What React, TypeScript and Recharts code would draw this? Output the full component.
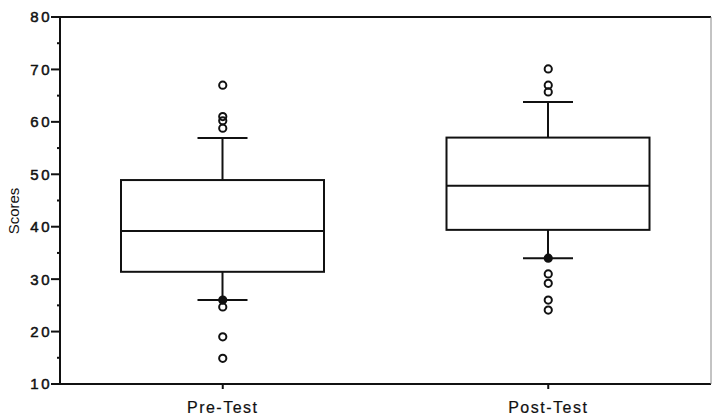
import React from 'react';
import { ComposedChart, Bar, Scatter, XAxis, YAxis } from 'recharts';

const categories = ['Pre-Test', 'Post-Test'];
const whiskerLow = [26, 34];
const q1 = [31.4, 39.4];
const median = [39.2, 47.8];
const q3 = [48.9, 57.0];
const whiskerHigh = [56.9, 63.8];
const preOutliers = [67, 61, 60.2, 58.8, 26, 24.7, 19, 14.9];
const postOutliers = [70.1, 67, 65.7, 34, 31, 29.2, 26, 24.1];
const yTicks = [10, 15, 20, 25, 30, 35, 40, 45, 50, 55, 60, 65, 70, 75, 80];
const yLabels = [10, 20, 30, 40, 50, 60, 70, 80];

const boxData = categories.map((name, i) => ({
  name,
  lo: whiskerLow[i],
  q1: q1[i],
  med: median[i],
  q3: q3[i],
  hi: whiskerHigh[i],
  range: [whiskerLow[i], whiskerHigh[i]],
}));

const outlierData = [
  ...preOutliers.map((v) => ({ name: categories[0], value: v, onWhisker: v === whiskerLow[0] })),
  ...postOutliers.map((v) => ({ name: categories[1], value: v, onWhisker: v === whiskerLow[1] })),
];

const topData = categories.map((name) => ({ name, value: 80 }));

const FONT = '"Liberation Sans", Arial, Helvetica, sans-serif';

const BoxShape = (props: any) => {
  const { x, y, width, height, payload } = props;
  const lo = payload.lo;
  const hi = payload.hi;
  const pix = (v: number) => y + ((hi - v) / (hi - lo)) * height;
  const cx = x + width / 2;
  const capHalf = 25;
  const yQ3 = pix(payload.q3);
  const yQ1 = pix(payload.q1);
  const yMed = pix(payload.med);
  const yHi = pix(hi);
  const yLo = pix(lo);
  return (
    <g stroke="#111" strokeWidth={2} fill="none">
      <line x1={cx} x2={cx} y1={yHi} y2={yQ3} />
      <line x1={cx - capHalf} x2={cx + capHalf} y1={yHi} y2={yHi} />
      <line x1={cx} x2={cx} y1={yQ1} y2={yLo} />
      <line x1={cx - capHalf} x2={cx + capHalf} y1={yLo} y2={yLo} />
      <rect x={x} y={yQ3} width={width} height={yQ1 - yQ3} />
      <line x1={x} x2={x + width} y1={yMed} y2={yMed} />
    </g>
  );
};

const YTick = (props: any) => {
  const { x, y, payload } = props;
  const v = payload.value;
  const major = yLabels.includes(v);
  return (
    <g>
      <line x1={x - (major ? 9 : 3)} x2={x} y1={y} y2={y} stroke="#111" strokeWidth={2} />
      {major && (
        <text
          x={x - 8}
          y={y}
          dy="0.36em"
          textAnchor="end"
          fontFamily={FONT}
          fontSize={15}
          letterSpacing={2.5}
          fill="#111"
          stroke="#111"
          strokeWidth={0.5}
        >
          {v}
        </text>
      )}
    </g>
  );
};

const Dot = (props: any) => {
  const { cx, cy, payload } = props;
  const filled = payload && payload.onWhisker;
  return (
    <circle
      cx={cx}
      cy={cy}
      r={3.6}
      fill={filled ? '#111' : 'none'}
      stroke="#111"
      strokeWidth={2}
    />
  );
};

const Empty = () => <g />;

export default function App() {
  return (
    <div style={{ position: 'absolute', left: 0, top: 0, background: '#fff' }}>
      <ComposedChart
        width={713}
        height={417}
        data={boxData}
        margin={{ top: 10, right: 1, bottom: 0, left: 0 }}
      >
        <XAxis
          dataKey="name"
          type="category"
          allowDuplicatedCategory={false}
          height={33}
          tickSize={5}
          tickMargin={13}
          axisLine={{ stroke: '#111', strokeWidth: 2 }}
          tickLine={{ stroke: '#111', strokeWidth: 2 }}
          tick={{ fontFamily: FONT, fontSize: 16, fill: '#111', letterSpacing: 1.5, stroke: '#111', strokeWidth: 0.2 }}
        />
        <XAxis
          xAxisId="top"
          dataKey="name"
          type="category"
          orientation="top"
          allowDuplicatedCategory={false}
          height={7}
          tickSize={5}
          tickMargin={0}
          tick={false}
          axisLine={{ stroke: '#111', strokeWidth: 2 }}
          tickLine={{ stroke: '#111', strokeWidth: 2 }}
        />
        <YAxis
          type="number"
          domain={[10, 80]}
          ticks={yTicks}
          interval={0}
          width={60}
          tickSize={0}
          tickMargin={0}
          tickLine={false}
          allowDataOverflow
          axisLine={{ stroke: '#111', strokeWidth: 2 }}
          tick={<YTick />}
          label={{
            content: () => (
              <text
                x={19}
                y={211}
                transform="rotate(-90 19 211)"
                textAnchor="middle"
                fontFamily={FONT}
                fontSize={15}
                fill="#111"
              >
                Scores
              </text>
            ),
          }}
        />
        <YAxis
          yAxisId="right"
          orientation="right"
          width={1}
          domain={[10, 80]}
          tick={false}
          tickLine={false}
          axisLine={{ stroke: '#888', strokeWidth: 1 }}
        />
        <Bar dataKey="range" barSize={203} shape={<BoxShape />} isAnimationActive={false} />
        <Scatter data={outlierData} dataKey="value" shape={<Dot />} isAnimationActive={false} />
        <Scatter
          xAxisId="top"
          yAxisId="right"
          data={topData}
          dataKey="value"
          shape={<Empty />}
          isAnimationActive={false}
        />
      </ComposedChart>
    </div>
  );
}
